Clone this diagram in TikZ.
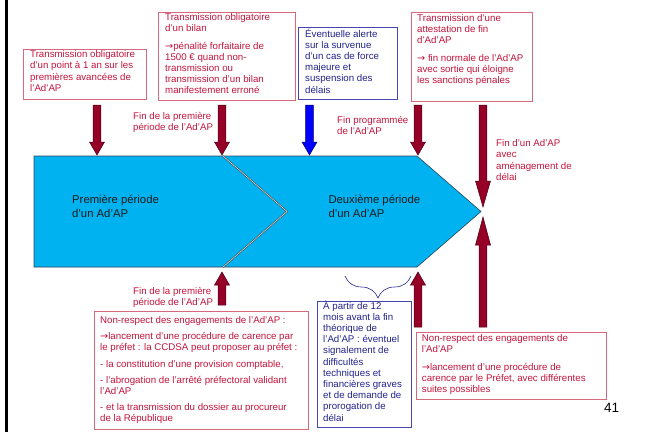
\documentclass[tikz,border=0pt]{standalone}
\usepackage{fontspec}
\setmainfont{Liberation Sans}
\newfontfamily\arrfont{DejaVu Sans}
\newcommand{\rarr}{{\arrfont →}}
\usetikzlibrary{calc,decorations.pathreplacing}
\definecolor{txtred}{RGB}{195,20,60}
\definecolor{boxred}{RGB}{215,105,125}
\definecolor{arrowred}{RGB}{150,0,38}
\definecolor{arrowedge}{RGB}{70,0,20}
\definecolor{txtblue}{RGB}{35,35,140}
\definecolor{boxblue}{RGB}{70,70,175}
\definecolor{cyanfill}{RGB}{0,178,240}
\definecolor{shapeedge}{RGB}{40,70,90}
\definecolor{bluearrow}{RGB}{0,0,255}
\begin{document}
\begin{tikzpicture}[x=1pt,y=-1pt,
  hdlen/.store in=\hdlen, hdlen=13pt,
  blockarrow/.style={to path={let \p1=(\tikztostart), \p2=(\tikztotarget), \n1={sign(\y2-\y1)} in
    (\x1-3.8pt,\y1) -- (\x1-3.8pt,\y2-\n1*\hdlen) -- (\x1-7.5pt,\y2-\n1*\hdlen) -- (\x2,\y2)
    -- (\x1+7.5pt,\y2-\n1*\hdlen) -- (\x1+3.8pt,\y2-\n1*\hdlen) -- (\x1+3.8pt,\y1) -- cycle}},
  redarrow/.style={blockarrow, fill=arrowred, draw=arrowedge, line width=0.5pt, line join=miter},
  bluearr/.style={blockarrow, fill=bluearrow, draw=black!60!blue, line width=0.5pt, line join=miter},
  redbox/.style={draw=boxred, line width=0.8pt, anchor=north west, inner sep=0pt, outer sep=0pt, fill=white},
  bluebox/.style={draw=boxblue, line width=0.8pt, anchor=north west, inner sep=0pt, outer sep=0pt, fill=white},
  small/.style={font=\fontsize{9.7}{11.2}\selectfont, anchor=north west, inner sep=0pt, align=left, execute at begin node=\rule{0pt}{9.5pt}},
  redtxt/.style={small, text=txtred},
  bluetxt/.style={small, text=txtblue},
  bigtxt/.style={font=\fontsize{11.3}{13.3}\selectfont, anchor=north west, inner sep=0pt, align=left, text=black!90, execute at begin node=\rule{0pt}{11pt}},
]
\useasboundingbox (0,0) rectangle (649,432);
\draw[line width=3pt] (6.5,0) -- (6.5,432);

% main double chevron
\path[fill=cyanfill, draw=shapeedge, line width=0.6pt] (34,156) -- (417,156) -- (481,211.5) -- (417,267) -- (34,267) -- cycle;
\draw[black!75, line width=1.6pt] (223,156) -- (287,211.5) -- (223,267);
\draw[white!70!gray, line width=0.6pt] (223,156) -- (287,211.5) -- (223,267);
\node[bigtxt] (p1) at (72,195.2) {Première période\\d’un Ad’AP};
\node[bigtxt] (p2) at (328.3,195.2) {Deuxième période\\d’un Ad’AP};

% arrow end points
\coordinate (a1s) at (97,105);    \coordinate (a1e) at (97,155);
\coordinate (a2s) at (222,105);   \coordinate (a2e) at (222,155);
\coordinate (a3s) at (309.5,105); \coordinate (a3e) at (309.5,155);
\coordinate (a4s) at (418,105);   \coordinate (a4e) at (418,155);
\coordinate (a5s) at (483,105);   \coordinate (a5e) at (483,207);
\coordinate (a6s) at (222,305);   \coordinate (a6e) at (222,272);
\coordinate (a7s) at (418,327);   \coordinate (a7e) at (418,272);
\coordinate (a8s) at (483,327);   \coordinate (a8e) at (483,217);

\draw[redarrow] (a1s) to (a1e);
\draw[redarrow] (a2s) to (a2e);
\draw[bluearr] (a3s) to (a3e);
\draw[redarrow] (a4s) to (a4e);
\draw[redarrow, hdlen=26pt] (a5s) to (a5e);
\draw[redarrow] (a6s) to (a6e);
\draw[redarrow] (a7s) to (a7e);
\draw[redarrow, hdlen=28pt] (a8s) to (a8e);

% brace
\coordinate (brL) at (345,276);
\coordinate (brR) at (411,276);
\draw[txtblue, line width=0.6pt, decorate, decoration={brace, mirror, amplitude=22pt}] (brL) -- (brR);

% labels
\node[redtxt] (l1) at (133,111.8) {Fin de la première\\période de l’Ad’AP};
\node[redtxt] (l2) at (337,116.2) {Fin programmée\\de l’Ad’AP};
\node[redtxt] (l3) at (496,139.5) {Fin d’un Ad’AP\\avec\\aménagement de\\délai};
\node[redtxt] (l4) at (133,286.8) {Fin de la première\\période de l’Ad’AP};

% boxes
\node[redbox, minimum width=123pt, minimum height=50pt] (bA) at (23,49) {};
\node[redtxt] (tA) at (30,50.5) {Transmission obligatoire\\d’un point à 1 an sur les\\premières avancées de\\l’Ad’AP};

\node[redbox, minimum width=137pt, minimum height=88pt] (bB) at (158,12) {};
\node[redtxt] (tB) at (165,13.5) {Transmission obligatoire\\d’un bilan\\[6pt]\rarr pénalité forfaitaire de\\1500 € quand non-\\transmission ou\\transmission d’un bilan\\manifestement erroné};

\node[bluebox, minimum width=99pt, minimum height=72pt] (bC) at (298,27) {};
\node[bluetxt] (tC) at (305,28.5) {Éventuelle alerte\\sur la survenue\\d’un cas de force\\majeure et\\suspension des\\délais};

\node[redbox, minimum width=121pt, minimum height=89pt] (bD) at (411,12) {};
\node[redtxt] (tD) at (417,14.2) {Transmission d’une\\attestation de fin\\d’Ad’AP\\[6pt]\rarr{} fin normale de l’Ad’AP\\avec sortie qui éloigne\\les sanctions pénales};

\node[redbox, minimum width=214pt, minimum height=118pt] (bE) at (94,311) {};
\node[redtxt] (tE) at (100,316.2) {Non-respect des engagements de l’Ad’AP :\\[5pt]\rarr lancement d’une procédure de carence par\\le préfet : la CCDSA peut proposer au préfet :\\[5pt]- la constitution d’une provision comptable,\\[5pt]- l’abrogation de l’arrêté préfectoral validant\\l’Ad’AP\\[5pt]- et la transmission du dossier au procureur\\de la République};

\node[bluebox, minimum width=94pt, minimum height=126pt] (bF) at (317,301) {};
\node[bluetxt] (tF) at (323,300.5) {À partir de 12\\mois avant la fin\\théorique de\\l’Ad’AP : éventuel\\signalement de\\difficultés\\techniques et\\financières graves\\et de demande de\\prorogation de\\délai};

\node[redbox, minimum width=190pt, minimum height=67pt] (bG) at (416,332) {};
\node[redtxt] (tG) at (421.7,334.5) {Non-respect des engagements de\\l’Ad’AP\\[6pt]\rarr lancement d’une procédure de\\carence par le Préfet, avec différentes\\suites possibles};

\node[font=\fontsize{13.5}{16}\selectfont, anchor=west, inner sep=0pt] (pg) at (604,407.7) {41};
\end{tikzpicture}
\end{document}
